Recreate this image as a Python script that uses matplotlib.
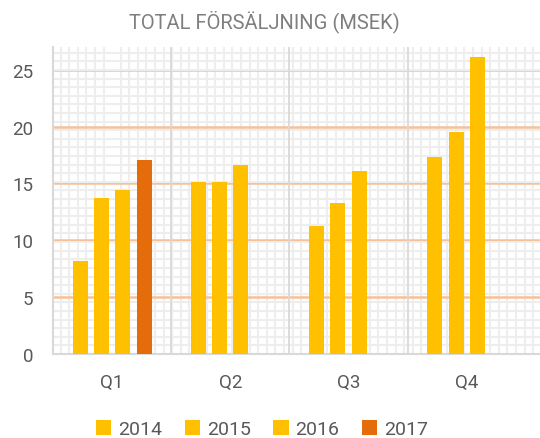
import numpy as np
import matplotlib
matplotlib.use("Agg")
import matplotlib.pyplot as plt
from matplotlib.ticker import MultipleLocator
from matplotlib.patches import Patch

plt.rcParams['font.family'] = ['Roboto', 'DejaVu Sans']

quarters = ['Q1', 'Q2', 'Q3', 'Q4']
years = ['2014', '2015', '2016', '2017']
sales_2014 = [8.2, 15.1, 11.3, 17.3]
sales_2015 = [13.7, 15.1, 13.3, 19.5]
sales_2016 = [14.4, 16.6, 16.1, 26.1]
sales_2017 = [17.1, np.nan, np.nan, np.nan]
series = [sales_2014, sales_2015, sales_2016, sales_2017]
colors = ['#FFC000', '#FFC000', '#FFC000', '#E46C0A']

fig = plt.figure(figsize=(5.4, 4.39), dpi=100)
ax = fig.add_axes([53 / 540, 1 - 355 / 439, 1 - 53 / 540, (355 - 48) / 439])

x = np.arange(len(quarters))
step = 0.18
width = 0.127
for j, (vals, c) in enumerate(zip(series, colors)):
    ax.bar(x + (j - 1.5) * step, vals, width=width, color=c, zorder=3)

ax.set_xlim(-0.5, 3.62)
ax.set_ylim(0, 27)

# graph-paper background
ax.xaxis.set_minor_locator(MultipleLocator(0.0727))
ax.yaxis.set_minor_locator(MultipleLocator(0.757))
ax.grid(which='minor', color='#EEEEEE', linewidth=1.5, zorder=0)
ax.yaxis.set_major_locator(MultipleLocator(5))
ax.grid(which='major', axis='y', color='#F7C096', linewidth=1.8, zorder=1)
for i in range(len(quarters) - 1):
    ax.axvline(i + 0.5, color='#D9D9D9', linewidth=1.3, zorder=1)
ax.set_axisbelow(True)

ax.set_xticks(x)
ax.set_xticklabels(quarters)
ax.tick_params(which='both', length=0)
ax.tick_params(axis='y', pad=14, labelsize=13.5, labelcolor='#595959')
ax.tick_params(axis='x', pad=14, labelsize=13.5, labelcolor='#595959')

for s in ['top', 'right']:
    ax.spines[s].set_visible(False)
for s in ['left', 'bottom']:
    ax.spines[s].set_color('#D9D9D9')
    ax.spines[s].set_linewidth(1.5)

fig.text(264 / 540, 1 - 22 / 439, 'TOTAL FÖRSÄLJNING (MSEK)', ha='center', va='center',
         fontsize=14.5, color='#7F7F7F')

handles = [Patch(facecolor=c, edgecolor='none') for c in colors]
fig.legend(handles, years, loc='center', bbox_to_anchor=(262 / 540, 1 - 430 / 439), ncol=4,
           frameon=False, fontsize=14, labelcolor='#595959', handlelength=0.8,
           handleheight=0.8, handletextpad=0.35, columnspacing=1.15)

fig.savefig('out.png', dpi=100)
